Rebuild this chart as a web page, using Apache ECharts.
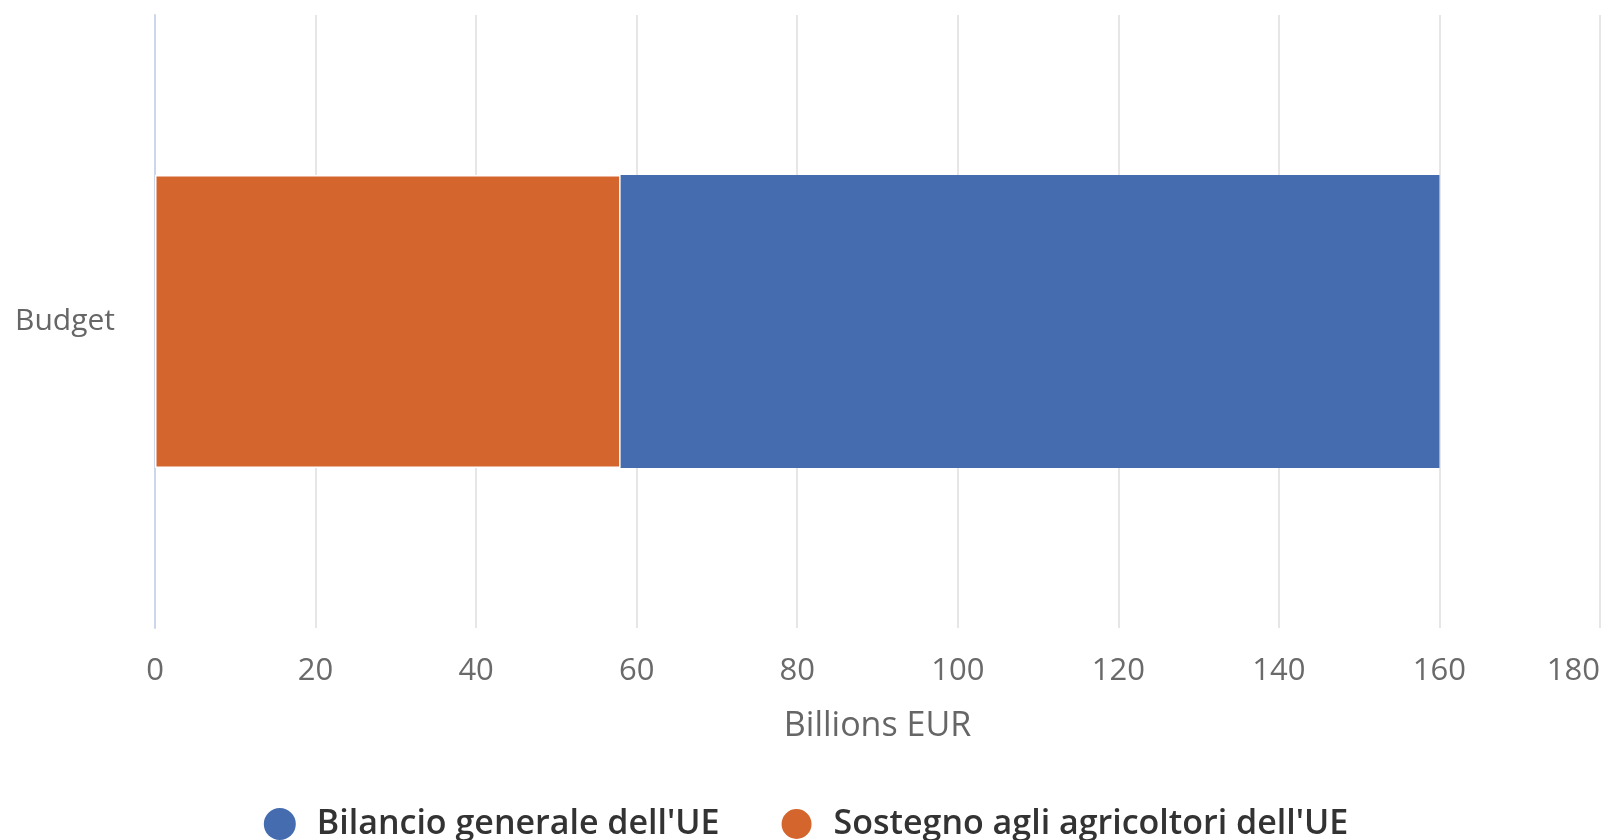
<!DOCTYPE html>
<html>
<head>
<meta charset="utf-8">
<script src="https://cdn.jsdelivr.net/npm/echarts@6/dist/echarts.min.js"></script>
<style>
html,body{margin:0;padding:0;background:#fff;}
#chart{width:1612px;height:840px;}
</style>
</head>
<body>
<div id="chart"></div>
<script>
const categories = ["Budget"];
const seriesNames = ["Bilancio generale dell'UE", "Sostegno agli agricoltori dell'UE"];
const bilancioValues = [160];
const sostegnoValues = [58];
const xTicks = { min: 0, max: 180, interval: 20 };
const xAxisName = "Billions EUR";

const chart = echarts.init(document.getElementById('chart'), null, {renderer: 'canvas'});
const labelFont = "'Open Sans', sans-serif";
chart.setOption({
  backgroundColor: '#ffffff',
  animation: false,
  grid: { left: 155, right: 12, top: 15, bottom: 212, containLabel: false },
  xAxis: {
    type: 'value',
    min: xTicks.min, max: xTicks.max, interval: xTicks.interval,
    name: xAxisName,
    nameLocation: 'middle',
    nameGap: 81,
    nameTextStyle: { fontFamily: labelFont, fontSize: 34, color: '#666666' },
    axisLine: { show: false },
    axisTick: { show: false },
    axisLabel: { fontFamily: labelFont, fontSize: 31, color: '#6a6a6a', margin: 28, alignMaxLabel: 'right' },
    splitLine: { show: true, lineStyle: { color: '#e6e6e6', width: 2 } }
  },
  yAxis: {
    type: 'category',
    data: categories,
    axisLine: { show: true, lineStyle: { color: '#ccd6eb', width: 2 } },
    axisTick: { show: false },
    axisLabel: { fontFamily: labelFont, fontSize: 30, color: '#666666', margin: 40 },
    splitLine: { show: false }
  },
  legend: {
    bottom: -6,
    left: 'center',
    itemWidth: 64, itemHeight: 32, itemGap: 60,
    icon: 'circle',
    textStyle: { fontFamily: labelFont, fontSize: 34, color: '#333333', fontWeight: 600 },
    data: seriesNames
  },
  series: [
    {
      name: seriesNames[0], type: 'bar', data: bilancioValues,
      barWidth: 293, barGap: '-100%',
      itemStyle: { color: '#466cb0' }
    },
    {
      name: seriesNames[1], type: 'bar', data: sostegnoValues,
      barWidth: 293, barGap: '-100%',
      itemStyle: { color: '#d4652d', borderColor: '#ffffff', borderWidth: 1.5 }
    }
  ]
});
</script>
</body>
</html>
